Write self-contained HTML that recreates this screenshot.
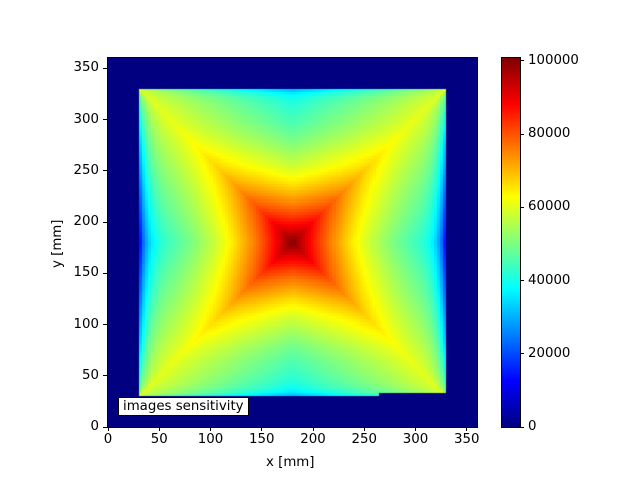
<!DOCTYPE html>
<html><head><meta charset="utf-8"><style>
body{margin:0;background:#fff;width:640px;height:480px;overflow:hidden;position:relative;font-family:"DejaVu Sans","Liberation Sans",sans-serif;font-size:13.33px;color:#000}
canvas{position:absolute}
.t{position:absolute;white-space:nowrap}
.tx{position:absolute;width:1px;height:4px;background:#000}
.ty{position:absolute;height:1px;width:4px;background:#000}
</style></head><body>
<canvas id="c" width="369" height="369" style="left:108px;top:58px"></canvas>
<canvas id="cb" width="18" height="369" style="left:502px;top:58px;outline:1px solid #000"></canvas>
<div style="position:absolute;left:107px;top:57px;width:369px;height:369px;border:1px solid #000"></div>
<div id="ax"></div>
<div class="t" style="left:118px;top:397px;border:1px solid #000;background:#fff;padding:1px 4px;">images sensitivity</div>
<div class="t" style="left:266px;top:455px">x [mm]</div>
<div class="t" style="left:50px;transform:rotate(-90deg);transform-origin:left top;top:268px">y [mm]</div>
<script>
function jet(t){t=Math.max(0,Math.min(1,t));var c=function(x){return Math.round(255*Math.max(0,Math.min(1,x)))};
return [c(1.5-Math.abs(4*t-3)),c(1.5-Math.abs(4*t-2)),c(1.5-Math.abs(4*t-1))];}
var vmax=100800;
var cv=document.getElementById('c'),ctx=cv.getContext('2d'),img=ctx.createImageData(369,369);
var s=360/369;
for(var py=0;py<369;py++)for(var px=0;px<369;px++){
 var x=Math.floor((px+0.5)*s/3)*3+1.5,y=Math.floor((360-(py+0.5)*s)/3)*3+1.5;
 var val=0;
 if(x>=30&&x<=330&&y>=30&&y<=330&&!(x>265&&y<33)){
  var u=Math.abs(x-180)/150,v=Math.abs(y-180)/150,m=Math.max(u,v),mn=Math.min(u,v),r=m>0?mn/m:1;
  var d=0.6+0.4*Math.pow(1-m,2.5);
  var f=d-0.21*Math.pow(m,1.2)*Math.pow(1-r,0.9);
  if(u>v){f-=0.3*Math.exp(-(1-u)/0.05)*Math.pow(1-r,0.3);}
  else{f-=0.1*Math.exp(-(1-v)/0.03)*Math.pow(1-r,0.3);}
  val=f*100000;
 }
 var c=jet(val/vmax),i=(py*369+px)*4;img.data[i]=c[0];img.data[i+1]=c[1];img.data[i+2]=c[2];img.data[i+3]=255;}
ctx.putImageData(img,0,0);
var cb=document.getElementById('cb'),cx=cb.getContext('2d');
for(var py=0;py<369;py++){var c=jet((369-py-0.5)/369);cx.fillStyle='rgb('+c+')';cx.fillRect(0,py,18,1);}
var h='';
for(var k=0;k<=350;k+=50){var p=108+k*1.025;h+='<div class="tx" style="left:'+(p-0.5)+'px;top:427px"></div><div class="t" style="left:'+(p-20)+'px;width:40px;text-align:center;top:432px">'+k+'</div>';
 var q=427-k*1.025;h+='<div class="ty" style="left:103px;top:'+(q-0.5)+'px"></div><div class="t" style="left:49px;width:50px;text-align:right;top:'+(q-8)+'px">'+k+'</div>';}
for(var k=0;k<=100000;k+=20000){var q=427-k/vmax*369;h+='<div class="ty" style="left:520px;top:'+(q-0.5)+'px"></div><div class="t" style="left:528px;top:'+(q-8)+'px">'+k+'</div>';}
document.getElementById('ax').innerHTML=h;
</script>
</body></html>
